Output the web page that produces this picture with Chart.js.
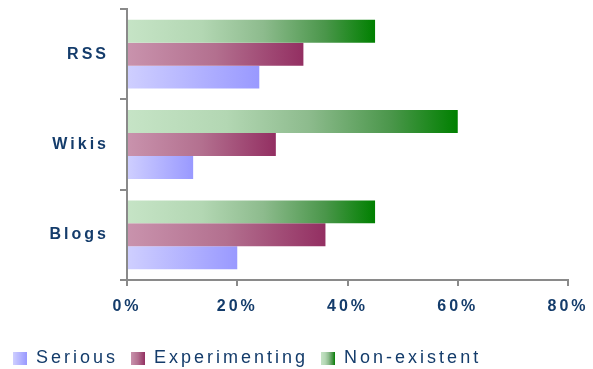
<!DOCTYPE html>
<html><head><meta charset="utf-8">
<script src="https://cdn.jsdelivr.net/npm/chart.js@4/dist/chart.umd.min.js"></script>
<style>html,body{margin:0;padding:0;background:#fff}#wrap{width:593px;height:369px}</style>
</head><body><div id="wrap"><canvas id="c" width="593" height="369"></canvas></div>
<script>
// ---- data ----
const categories = ['RSS', 'Wikis', 'Blogs'];
const seriousValues = [24, 12, 20];
const experimentingValues = [32, 27, 36];
const nonExistentValues = [45, 60, 45];
const xTickValues = [0, 20, 40, 60, 80];
const seriesNames = ['Serious', 'Experimenting', 'Non-existent'];

// ---- styles ----
const TXT = '#143c6b';
const AXIS = '#8a8a8a';
const FONT = "'Liberation Sans', Arial, sans-serif";
const gradStops = {
  serious: [[0, '#cfcfff'], [1, '#9999ff']],
  experimenting: [[0, '#c993ad'], [0.5, '#b3708f'], [1, '#932f62']],
  nonexistent: [[0, '#c6e4c6'], [0.3, '#b3d7b3'], [0.55, '#8dbb8d'], [0.8, '#4a964a'], [1, '#008000']]
};
function makeGrad(c, x0, x1, key) {
  const g = c.createLinearGradient(x0, 0, x1, 0);
  gradStops[key].forEach(s => g.addColorStop(s[0], s[1]));
  return g;
}
function barFill(key) {
  return (ctx) => {
    const chart = ctx.chart;
    const st = gradStops[key];
    if (ctx.type !== 'data' || !chart.chartArea || !chart.scales.x) return st[st.length - 1][1];
    const x0 = chart.scales.x.getPixelForValue(0);
    const x1 = chart.scales.x.getPixelForValue(ctx.raw);
    if (!isFinite(x0) || !isFinite(x1) || x1 - x0 < 1) return st[0][1];
    return makeGrad(chart.ctx, x0, x1, key);
  };
}
function swatch(key) {
  const cv = document.createElement('canvas');
  cv.width = 14; cv.height = 13;
  const c = cv.getContext('2d');
  c.fillStyle = makeGrad(c, 0, 14, key);
  c.fillRect(0, 0, 14, 13);
  return cv;
}
const swatches = { serious: swatch('serious'), experimenting: swatch('experimenting'), nonexistent: swatch('nonexistent') };

const AXIS_SPACING = '3px';
const LEGEND_SPACING = '3px';
const spacingPlugin = {
  id: 'spacing',
  beforeUpdate(ch) {
    ch.ctx.letterSpacing = AXIS_SPACING;
    const lg = ch.legend;
    if (lg && !lg._wrapped) {
      lg._wrapped = true;
      const of = lg.fit, od = lg.draw;
      lg.fit = function () { ch.ctx.letterSpacing = LEGEND_SPACING; of.apply(this, arguments); ch.ctx.letterSpacing = AXIS_SPACING; };
      lg.draw = function () { ch.ctx.letterSpacing = LEGEND_SPACING; od.apply(this, arguments); ch.ctx.letterSpacing = AXIS_SPACING; };
    }
  },
  beforeLayout(ch) { ch.ctx.letterSpacing = AXIS_SPACING; },
  beforeDraw(ch) { ch.ctx.letterSpacing = AXIS_SPACING; }
};

new Chart(document.getElementById('c'), {
  type: 'bar',
  data: {
    labels: categories,
    datasets: [
      { label: seriesNames[2], data: nonExistentValues, backgroundColor: barFill('nonexistent') },
      { label: seriesNames[1], data: experimentingValues, backgroundColor: barFill('experimenting') },
      { label: seriesNames[0], data: seriousValues, backgroundColor: barFill('serious') }
    ]
  },
  options: {
    indexAxis: 'y',
    responsive: false,
    animation: false,
    devicePixelRatio: 1,
    datasets: { bar: { categoryPercentage: 0.762, barPercentage: 1, borderWidth: 0, inflateAmount: 0 } },
    layout: { padding: { left: 0, right: 25, top: 9, bottom: -8 } },
    plugins: {
      tooltip: { enabled: false },
      legend: {
        position: 'bottom',
        align: 'start',
        labels: {
          usePointStyle: true,
          pointStyleWidth: 14,
          padding: 13,
          color: TXT,
          font: { family: FONT, size: 18 },
          generateLabels: () => [
            { text: seriesNames[0], pointStyle: swatches.serious, fillStyle: '#9999ff', strokeStyle: 'rgba(0,0,0,0)', lineWidth: 0, hidden: false, datasetIndex: 2, fontColor: TXT },
            { text: seriesNames[1], pointStyle: swatches.experimenting, fillStyle: '#932f62', strokeStyle: 'rgba(0,0,0,0)', lineWidth: 0, hidden: false, datasetIndex: 1, fontColor: TXT },
            { text: seriesNames[2], pointStyle: swatches.nonexistent, fillStyle: '#008000', strokeStyle: 'rgba(0,0,0,0)', lineWidth: 0, hidden: false, datasetIndex: 0, fontColor: TXT }
          ]
        }
      }
    },
    scales: {
      x: {
        type: 'linear', position: 'bottom', min: 0, max: 80,
        afterBuildTicks(s) { s.ticks = xTickValues.map(v => ({ value: v })); },
        afterFit(s) { s.height = 56; s.paddingLeft = 0; s.paddingRight = 0; },
        ticks: { callback: v => v + '%', color: TXT, font: { family: FONT, size: 16, weight: 'bold' }, padding: 11, maxRotation: 0, autoSkip: false },
        grid: { drawOnChartArea: false, drawTicks: true, tickLength: 6, color: AXIS, lineWidth: 2 },
        border: { display: true, color: AXIS, width: 2 }
      },
      y: {
        type: 'category', position: 'left', offset: true,
        afterFit(s) { s.width = 127; s.paddingTop = 0; s.paddingBottom = 0; },
        ticks: { color: TXT, font: { family: FONT, size: 16, weight: 'bold' }, padding: 11 },
        grid: { offset: true, drawOnChartArea: false, drawTicks: true, tickLength: 7, color: AXIS, lineWidth: 2 },
        border: { display: true, color: AXIS, width: 2 }
      }
    }
  },
  plugins: [spacingPlugin]
});
</script>
</body></html>
